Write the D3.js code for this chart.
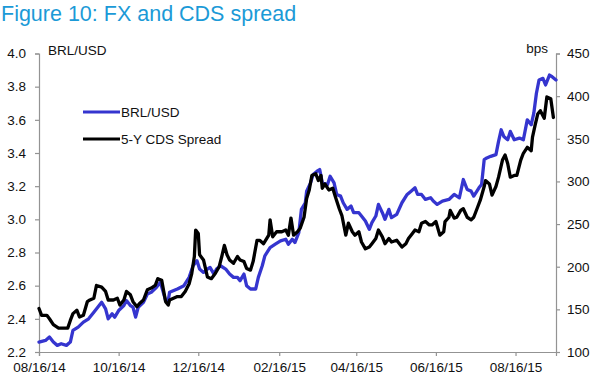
<!DOCTYPE html>
<html>
<head>
<meta charset="utf-8">
<script src="https://cdn.jsdelivr.net/npm/d3@7/dist/d3.min.js"></script>
<style>
  html, body { margin: 0; padding: 0; background: #fff; }
  svg { display: block; font-family: "Liberation Sans", Arial, Helvetica, sans-serif; }
</style>
</head>
<body>
<svg id="chart" width="598" height="385"></svg>
<script>
// ---------------- data ----------------
const title = "Figure 10: FX and CDS spread";
const seriesNames = ["BRL/USD", "5-Y CDS Spread"];
const leftAxisLabel = "BRL/USD";
const rightAxisLabel = "bps";

const xTickDates = ["2014-08-16", "2014-10-16", "2014-12-16", "2015-02-16", "2015-04-16", "2015-06-16", "2015-08-16"];
const xDomain = ["2014-08-16", "2015-09-16"];
const leftTicks = [2.2, 2.4, 2.6, 2.8, 3.0, 3.2, 3.4, 3.6, 3.8, 4.0];
const rightTicks = [100, 150, 200, 250, 300, 350, 400, 450];

const brlDates = ["2014-08-16","2014-08-21","2014-08-24","2014-08-27","2014-08-30","2014-09-02","2014-09-06","2014-09-09","2014-09-11","2014-09-15",
"2014-09-19","2014-09-23","2014-09-27","2014-09-30","2014-10-03","2014-10-06","2014-10-08","2014-10-11","2014-10-13","2014-10-16",
"2014-10-20","2014-10-22","2014-10-25","2014-10-27","2014-10-29","2014-10-31","2014-11-04","2014-11-07","2014-11-10","2014-11-14",
"2014-11-17","2014-11-21","2014-11-23","2014-11-24","2014-11-30","2014-12-05","2014-12-09","2014-12-12","2014-12-15","2014-12-17",
"2014-12-20","2014-12-23","2014-12-25","2014-12-28","2014-12-30","2015-01-02","2015-01-06","2015-01-09","2015-01-12","2015-01-15",
"2015-01-17","2015-01-20","2015-01-22","2015-01-25","2015-01-29","2015-01-31","2015-02-03","2015-02-05","2015-02-09","2015-02-13",
"2015-02-17","2015-02-21","2015-02-23","2015-02-26","2015-02-28","2015-03-03","2015-03-05","2015-03-08","2015-03-09","2015-03-12",
"2015-03-14","2015-03-17","2015-03-19","2015-03-21","2015-03-25","2015-03-27","2015-03-30","2015-04-01","2015-04-04","2015-04-06",
"2015-04-09","2015-04-12","2015-04-14","2015-04-18","2015-04-20","2015-04-23","2015-04-26","2015-04-28","2015-05-01","2015-05-03",
"2015-05-06","2015-05-08","2015-05-11","2015-05-13","2015-05-17","2015-05-21","2015-05-25","2015-05-28","2015-05-31","2015-06-02",
"2015-06-05","2015-06-08","2015-06-12","2015-06-14","2015-06-17","2015-06-21","2015-06-26","2015-06-30","2015-07-04","2015-07-07",
"2015-07-10","2015-07-13","2015-07-15","2015-07-19","2015-07-21","2015-07-23","2015-07-25","2015-07-28","2015-08-01","2015-08-03",
"2015-08-05","2015-08-07","2015-08-10","2015-08-12","2015-08-15","2015-08-19","2015-08-22","2015-08-25","2015-08-28","2015-08-30",
"2015-09-01","2015-09-03","2015-09-06","2015-09-08","2015-09-11","2015-09-13","2015-09-16"];
const brlValues = [2.26,2.27,2.29,2.26,2.24,2.25,2.24,2.26,2.33,2.35,
2.38,2.40,2.44,2.47,2.50,2.46,2.40,2.43,2.41,2.45,
2.48,2.51,2.48,2.47,2.41,2.47,2.50,2.55,2.56,2.59,
2.62,2.51,2.51,2.56,2.58,2.60,2.65,2.72,2.75,2.70,
2.68,2.70,2.71,2.67,2.70,2.72,2.70,2.67,2.65,2.65,
2.63,2.67,2.60,2.58,2.58,2.65,2.72,2.78,2.83,2.85,
2.87,2.88,2.85,2.88,2.86,2.92,3.06,3.10,3.17,3.22,
3.27,3.29,3.30,3.22,3.21,3.26,3.22,3.15,3.14,3.10,
3.06,3.08,3.04,3.04,3.02,2.99,2.94,2.98,3.02,3.09,
3.04,3.00,3.06,3.01,3.03,3.10,3.15,3.17,3.19,3.15,
3.15,3.12,3.13,3.11,3.09,3.11,3.12,3.15,3.13,3.24,
3.18,3.17,3.14,3.19,3.21,3.36,3.37,3.38,3.39,3.47,
3.54,3.50,3.48,3.53,3.48,3.49,3.48,3.60,3.57,3.64,
3.76,3.84,3.85,3.81,3.87,3.86,3.84];

const cdsDates = ["2014-08-16","2014-08-18","2014-08-22","2014-08-24","2014-08-27","2014-08-31","2014-09-04","2014-09-07","2014-09-09","2014-09-11",
"2014-09-14","2014-09-16","2014-09-19","2014-09-22","2014-09-24","2014-09-27","2014-09-29","2014-10-03","2014-10-06","2014-10-08",
"2014-10-12","2014-10-15","2014-10-17","2014-10-20","2014-10-22","2014-10-25","2014-10-27","2014-10-30","2014-11-01","2014-11-04",
"2014-11-07","2014-11-10","2014-11-13","2014-11-15","2014-11-18","2014-11-21","2014-11-23","2014-11-24","2014-11-30","2014-12-03",
"2014-12-06","2014-12-09","2014-12-11","2014-12-13","2014-12-14","2014-12-16","2014-12-17","2014-12-20","2014-12-23","2014-12-26",
"2014-12-29","2015-01-01","2015-01-03","2015-01-05","2015-01-07","2015-01-09","2015-01-12","2015-01-15","2015-01-17","2015-01-20",
"2015-01-22","2015-01-25","2015-01-27","2015-01-30","2015-02-01","2015-02-04","2015-02-08","2015-02-09","2015-02-11","2015-02-14",
"2015-02-18","2015-02-21","2015-02-23","2015-02-25","2015-02-27","2015-03-02","2015-03-04","2015-03-07","2015-03-09","2015-03-11",
"2015-03-13","2015-03-16","2015-03-18","2015-03-20","2015-03-21","2015-03-23","2015-03-26","2015-03-29","2015-03-31","2015-04-03",
"2015-04-05","2015-04-08","2015-04-10","2015-04-13","2015-04-15","2015-04-18","2015-04-20","2015-04-23","2015-04-26","2015-04-28",
"2015-05-01","2015-05-03","2015-05-06","2015-05-08","2015-05-11","2015-05-13","2015-05-17","2015-05-21","2015-05-24","2015-05-26",
"2015-05-29","2015-05-31","2015-06-03","2015-06-05","2015-06-08","2015-06-11","2015-06-13","2015-06-16","2015-06-19","2015-06-22",
"2015-06-23","2015-06-26","2015-06-27","2015-06-30","2015-07-02","2015-07-05","2015-07-07","2015-07-10","2015-07-13","2015-07-15",
"2015-07-18","2015-07-20","2015-07-23","2015-07-24","2015-07-27","2015-07-29","2015-08-01","2015-08-03","2015-08-06","2015-08-08",
"2015-08-10","2015-08-12","2015-08-15","2015-08-17","2015-08-20","2015-08-22","2015-08-25","2015-08-28","2015-08-29","2015-08-31",
"2015-09-02","2015-09-04","2015-09-07","2015-09-09","2015-09-12","2015-09-14"];
const cdsValues = [151,143,143,139,132,128,128,128,137,145,
149,141,143,159,161,163,178,176,171,161,
161,163,155,161,171,167,159,153,157,161,
173,175,178,186,184,159,155,161,165,165,
171,180,192,212,243,239,214,208,188,186,
192,200,212,225,214,208,204,212,208,206,
198,196,206,231,231,227,237,255,235,241,
241,243,237,257,237,241,245,258,280,290,
307,309,301,307,292,297,290,292,282,268,
260,237,251,241,237,241,229,221,223,227,
233,243,235,227,233,229,231,223,227,233,
239,243,241,251,253,249,249,253,237,241,
253,258,266,257,258,266,268,258,255,258,
270,278,294,301,297,284,294,305,325,331,
321,305,307,307,325,333,340,336,352,366,
379,383,374,399,397,375];

// ---------------- chart ----------------
const plot = { left: 39, right: 556, top: 53.5, bottom: 352 };
const parse = d3.timeParse("%Y-%m-%d");
const fmt = d3.timeFormat("%m/%d/%y");
const font = 13.5;
const axisColor = "#939393";
const blue = "#3535cf";

const svg = d3.select("#chart");

const x = d3.scaleTime().domain(xDomain.map(parse)).range([plot.left, plot.right]);
const yL = d3.scaleLinear().domain([2.2, 4.0]).range([plot.bottom, plot.top]);
const yR = d3.scaleLinear().domain([100, 450]).range([plot.bottom, plot.top]);

// title
svg.append("text").attr("x", 1).attr("y", 21)
  .attr("font-size", 21.5).attr("fill", "#1b9ad7").text(title);

function styleAxis(g) {
  g.selectAll("path.domain").attr("stroke", axisColor).attr("stroke-width", 1.2);
  g.selectAll(".tick line").attr("stroke", axisColor).attr("stroke-width", 1.2);
  g.selectAll(".tick text").attr("fill", "#111").attr("font-size", font)
    .attr("font-family", "'Liberation Sans', Arial, sans-serif");
}

// left axis
svg.append("g").attr("transform", `translate(${plot.left},0)`)
  .call(d3.axisLeft(yL).tickValues(leftTicks).tickFormat(d3.format(".1f")).tickSizeOuter(0).tickSize(4).tickPadding(9))
  .call(styleAxis);

// right axis
svg.append("g").attr("transform", `translate(${plot.right},0)`)
  .call(d3.axisRight(yR).tickValues(rightTicks).tickFormat(d3.format("d")).tickSizeOuter(0).tickSize(4).tickPadding(7))
  .call(styleAxis);

// bottom axis
svg.append("g").attr("transform", `translate(0,${plot.bottom})`)
  .call(d3.axisBottom(x).tickValues(xTickDates.map(parse)).tickFormat(fmt).tickSizeOuter(0).tickSize(4).tickPadding(6))
  .call(styleAxis);

// axis labels
svg.append("text").attr("x", 48).attr("y", 55).attr("font-size", font).attr("fill", "#111").text(leftAxisLabel);
svg.append("text").attr("x", 548).attr("y", 52.5).attr("text-anchor", "end").attr("font-size", font).attr("fill", "#111").text(rightAxisLabel);

// lines
const brl = brlDates.map((d, i) => ({ date: parse(d), v: brlValues[i] }));
const cds = cdsDates.map((d, i) => ({ date: parse(d), v: cdsValues[i] }));

svg.append("path").datum(brl)
  .attr("fill", "none").attr("stroke", blue).attr("stroke-width", 3.3)
  .attr("stroke-linejoin", "round").attr("stroke-linecap", "round")
  .attr("d", d3.line().x(d => x(d.date)).y(d => yL(d.v)));

svg.append("path").datum(cds)
  .attr("fill", "none").attr("stroke", "#000").attr("stroke-width", 3.3)
  .attr("stroke-linejoin", "round").attr("stroke-linecap", "round")
  .attr("d", d3.line().x(d => x(d.date)).y(d => yR(d.v)));

// legend
const legend = [
  { name: seriesNames[0], color: blue, y: 112 },
  { name: seriesNames[1], color: "#000", y: 139 }
];
const lg = svg.append("g");
legend.forEach(l => {
  lg.append("line").attr("x1", 83).attr("x2", 120).attr("y1", l.y).attr("y2", l.y)
    .attr("stroke", l.color).attr("stroke-width", 3);
  lg.append("text").attr("x", 121).attr("y", l.y + 4.6).attr("font-size", font).attr("fill", "#111").text(l.name);
});
</script>
</body>
</html>
